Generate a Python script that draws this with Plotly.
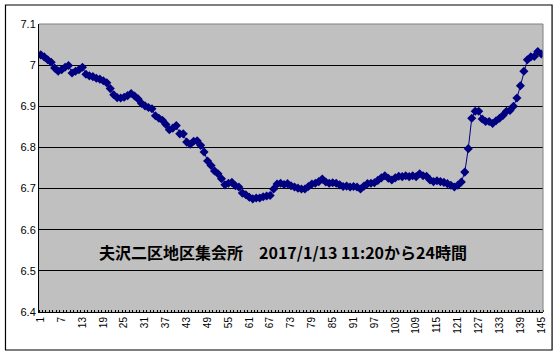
import plotly.graph_objects as go

sample_no = list(range(1, 146))
values = [
    7.025, 7.020, 7.013, 7.007, 6.993, 6.985, 6.989, 6.995, 6.999, 6.981,
    6.985, 6.989, 6.995, 6.978, 6.974, 6.972, 6.968, 6.966, 6.962, 6.957,
    6.943, 6.928, 6.921, 6.920, 6.922, 6.926, 6.931, 6.925, 6.918, 6.907,
    6.901, 6.897, 6.894, 6.877, 6.871, 6.866, 6.856, 6.843, 6.847, 6.853,
    6.833, 6.833, 6.813, 6.808, 6.815, 6.816, 6.805, 6.789, 6.767, 6.756,
    6.743, 6.736, 6.724, 6.709, 6.713, 6.715, 6.707, 6.704, 6.689, 6.685,
    6.679, 6.675, 6.677, 6.677, 6.680, 6.682, 6.683, 6.699, 6.711, 6.713,
    6.710, 6.712, 6.707, 6.704, 6.701, 6.699, 6.699, 6.705, 6.711, 6.713,
    6.717, 6.723, 6.716, 6.713, 6.714, 6.713, 6.709, 6.705, 6.706, 6.704,
    6.705, 6.704, 6.699, 6.706, 6.712, 6.713, 6.714, 6.720, 6.726, 6.731,
    6.725, 6.721, 6.726, 6.730, 6.729, 6.731, 6.729, 6.731, 6.729, 6.736,
    6.731, 6.730, 6.721, 6.717, 6.719, 6.717, 6.715, 6.712, 6.708, 6.704,
    6.708, 6.716, 6.740, 6.797, 6.871, 6.888, 6.888, 6.869, 6.863, 6.863,
    6.858, 6.865, 6.871, 6.878, 6.888, 6.890, 6.900, 6.920, 6.950, 6.985,
    7.013, 7.020, 7.021, 7.033, 7.027,
]
x_tick_vals = list(range(1, 146, 6))
x_tick_text = [str(v) for v in x_tick_vals]
y_tick_vals = [6.4, 6.5, 6.6, 6.7, 6.8, 6.9, 7.0, 7.1]
y_tick_text = ["6.4", "6.5", "6.6", "6.7", "6.8", "6.9", "7", "7.1"]
title_text = "夫沢二区地区集会所　2017/1/13 11:20から24時間"

navy = "#000080"
fig = go.Figure()
fig.add_trace(go.Scatter(
    x=sample_no, y=values, mode="lines+markers",
    line=dict(color=navy, width=1),
    marker=dict(symbol="diamond", size=7, color=navy),
    showlegend=False,
))

fig.update_layout(
    width=558, height=356,
    margin=dict(l=39, r=15, t=24, b=44),
    paper_bgcolor="white",
    plot_bgcolor="#C0C0C0",
    font=dict(family="Liberation Sans, Arial", size=10, color="black"),
    xaxis=dict(
        range=[0.5, 145.5], tickmode="array", tickvals=x_tick_vals, ticktext=x_tick_text,
        tickangle=-90, showgrid=False, zeroline=False,
        showline=True, linecolor="black", linewidth=1,
        ticks="", tickfont=dict(size=10),
        minor=dict(ticks="inside", ticklen=2, tickcolor="black", tickmode="linear",
                   tick0=0.5, dtick=1),
    ),
    yaxis=dict(
        range=[6.4, 7.1], tickmode="array", tickvals=y_tick_vals, ticktext=y_tick_text,
        showgrid=True, gridcolor="black", gridwidth=1, zeroline=False,
        showline=True, linecolor="black", linewidth=1, ticks="",
        tickfont=dict(size=11),
    ),
    annotations=[dict(
        x=70.6, y=6.545, xref="x", yref="y", text="<b>" + title_text + "</b>",
        showarrow=False, font=dict(family="Noto Sans CJK JP", size=16, color="black"),
    )],
    shapes=[
        dict(type="line", xref="paper", yref="paper", x0=0, x1=1, y0=1, y1=1,
             line=dict(color="#808080", width=1), layer="above"),
        dict(type="line", xref="paper", yref="paper", x0=1, x1=1, y0=0, y1=1,
             line=dict(color="#808080", width=1), layer="above"),
        dict(type="rect", xref="paper", yref="paper", x0=-0.0665, x1=1.018,
             y0=-0.132, y1=1.066, line=dict(color="black", width=1.2)),
    ],
)

fig.write_html("out.html")
